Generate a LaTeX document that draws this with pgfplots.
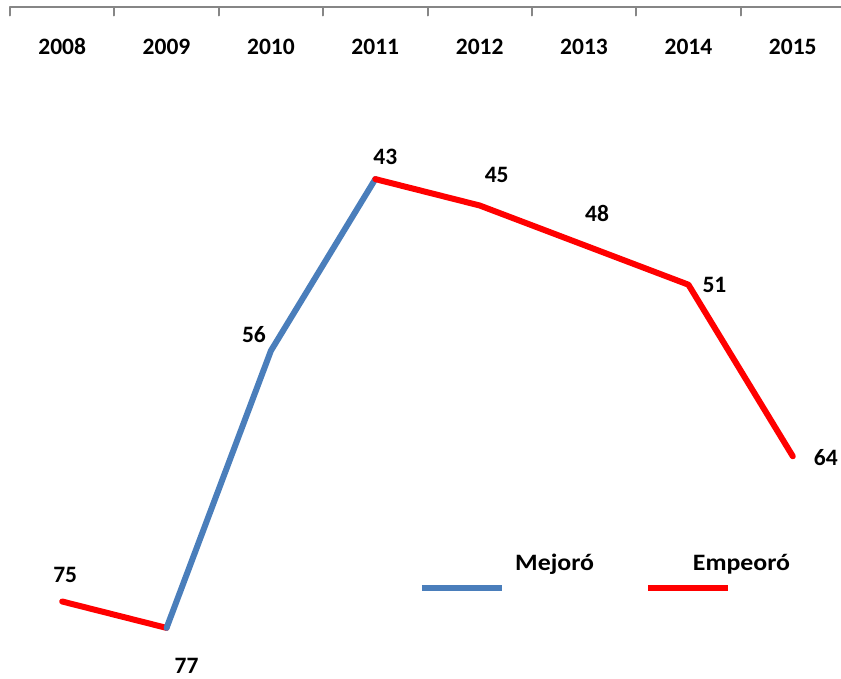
\documentclass[border=0pt]{standalone}
\usepackage{pgfplots}
\pgfplotsset{compat=1.18}
\usepackage{fontspec}
\setmainfont{Carlito}
\definecolor{myblue}{HTML}{4A7EBB}
\definecolor{myred}{HTML}{FF0000}
\definecolor{axgray}{RGB}{134,134,134}
\begin{document}
\begin{tikzpicture}[font=\fontsize{23.5}{27}\selectfont\bfseries]
\begin{axis}[
  scale only axis, width=835pt, height=660pt,
  xmin=-0.5, xmax=7.5, ymin=30, ymax=80, y dir=reverse,
  axis x line=top, axis y line=none,
  x axis line style={-, draw=axgray, line width=2pt},
  xtick={0,...,7}, xticklabels={2008,2009,2010,2011,2012,2013,2014,2015},
  major tick length=0pt,
  minor xtick={-0.5,0.5,...,7.5},
  minor tick length=8pt,
  tick align=inside,
  minor tick style={draw=axgray, line width=2pt},
  xticklabel style={anchor=center, yshift=-39pt, font=\fontsize{23.5}{27}\selectfont\bfseries},
  clip=false,
  line cap=round, line join=round,
]
\addplot[myred, line width=6pt, mark=none] coordinates {(0,75) (1,77)};
\addplot[myblue, line width=6pt, mark=none] coordinates {(1,77) (2,56) (3,43)};
\addplot[myred, line width=6pt, mark=none] coordinates {(3,43) (4,45) (5,48) (6,51) (7,64)};
% legend lines
\addplot[myblue, line width=6pt, mark=none, line cap=butt, forget plot] coordinates {(3.447,74) (4.214,74)};
\addplot[myred, line width=6pt, mark=none, line cap=butt, forget plot] coordinates {(5.613,74) (6.379,74)};
\node[anchor=base west, inner sep=0pt] at (axis cs:4.338,72.62) {\scalebox{1.1}[1]{Mejoró}};
\node[anchor=base west, inner sep=0pt] at (axis cs:6.041,72.62) {\scalebox{1.1}[1]{Empeoró}};
% data labels
\node at ([xshift=3pt,yshift=27pt]axis cs:0,75) {75};
\node at ([xshift=20pt,yshift=-38pt]axis cs:1,77) {77};
\node at ([xshift=-17pt,yshift=16pt]axis cs:2,56) {56};
\node at ([xshift=10pt,yshift=22pt]axis cs:3,43) {43};
\node at ([xshift=17pt,yshift=31pt]axis cs:4,45) {45};
\node at ([xshift=13pt,yshift=32pt]axis cs:5,48) {48};
\node at ([xshift=26pt,yshift=0pt]axis cs:6,51) {51};
\node at ([xshift=33pt,yshift=-1pt]axis cs:7,64) {64};
\coordinate (P1) at ([xshift=-10pt,yshift=7.5pt]axis cs:-0.5,30);
\coordinate (P2) at ([xshift=831pt,yshift=-10.6pt]axis cs:-0.5,80);
\end{axis}
\pgfresetboundingbox
\useasboundingbox (P1) rectangle (P2);
\end{tikzpicture}
\end{document}
